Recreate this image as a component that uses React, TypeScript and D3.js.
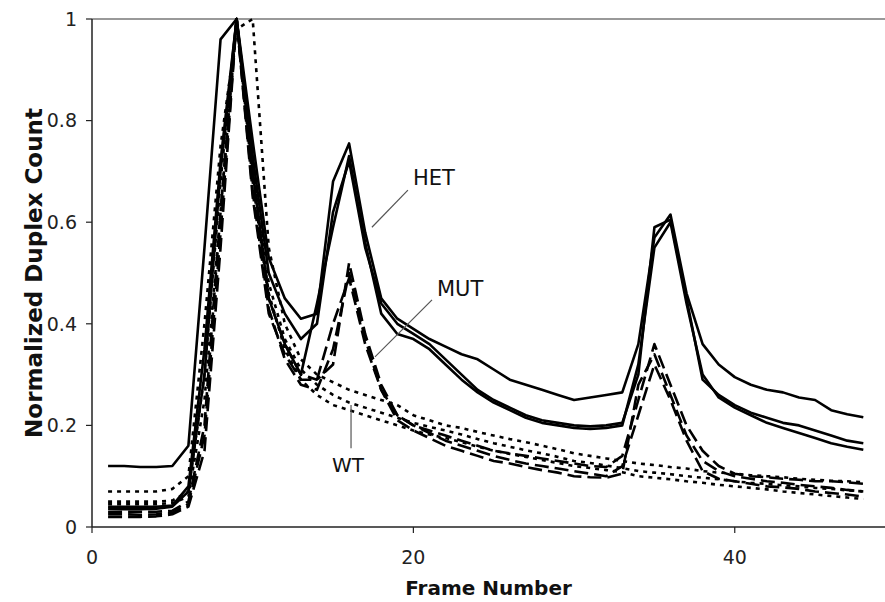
import React from 'react';
import * as d3 from 'd3';

// frame numbers 1..48
const frames = d3.range(1, 49);

const het1 = [0.12, 0.12, 0.118, 0.118, 0.12, 0.16, 0.55, 0.96, 1.0, 0.76, 0.53, 0.45, 0.41, 0.42, 0.68, 0.755, 0.58, 0.45, 0.41, 0.39, 0.37, 0.355, 0.34, 0.33, 0.31, 0.29, 0.28, 0.27, 0.26, 0.25, 0.255, 0.26, 0.265, 0.36, 0.57, 0.615, 0.46, 0.36, 0.32, 0.295, 0.28, 0.27, 0.265, 0.255, 0.25, 0.23, 0.222, 0.216];
const het2 = [0.04, 0.04, 0.04, 0.04, 0.042, 0.08, 0.35, 0.72, 1.0, 0.73, 0.5, 0.42, 0.37, 0.4, 0.62, 0.72, 0.55, 0.44, 0.4, 0.38, 0.36, 0.33, 0.3, 0.27, 0.25, 0.235, 0.22, 0.21, 0.205, 0.2, 0.198, 0.2, 0.205, 0.3, 0.59, 0.605, 0.45, 0.29, 0.26, 0.24, 0.225, 0.215, 0.205, 0.2, 0.19, 0.18, 0.17, 0.165];
const het3 = [0.036, 0.035, 0.035, 0.036, 0.04, 0.07, 0.3, 0.7, 1.0, 0.7, 0.45, 0.36, 0.3, 0.44, 0.59, 0.73, 0.56, 0.42, 0.38, 0.37, 0.35, 0.32, 0.29, 0.265, 0.245, 0.23, 0.215, 0.205, 0.2, 0.195, 0.193, 0.195, 0.2, 0.32, 0.55, 0.6, 0.44, 0.3, 0.255, 0.235, 0.22, 0.205, 0.195, 0.185, 0.175, 0.165, 0.158, 0.152];

const mut1 = [0.03, 0.03, 0.03, 0.03, 0.032, 0.05, 0.2, 0.62, 1.0, 0.68, 0.45, 0.36, 0.3, 0.29, 0.32, 0.52, 0.38, 0.28, 0.22, 0.2, 0.19, 0.18, 0.17, 0.16, 0.15, 0.145, 0.14, 0.135, 0.13, 0.125, 0.12, 0.118, 0.14, 0.25, 0.36, 0.28, 0.2, 0.15, 0.12, 0.105, 0.1, 0.098, 0.095, 0.093, 0.09, 0.09, 0.088, 0.085];
const mut2 = [0.02, 0.02, 0.02, 0.021, 0.025, 0.04, 0.15, 0.55, 1.0, 0.65, 0.42, 0.34, 0.29, 0.29, 0.4, 0.49, 0.36, 0.27, 0.22, 0.2, 0.185, 0.17, 0.16, 0.15, 0.14, 0.132, 0.125, 0.12, 0.115, 0.11, 0.105, 0.1, 0.12, 0.22, 0.32, 0.25, 0.17, 0.11, 0.095, 0.09, 0.085, 0.08, 0.078, 0.075, 0.07, 0.067, 0.064, 0.06];
const mut3 = [0.025, 0.025, 0.024, 0.025, 0.028, 0.045, 0.18, 0.58, 1.0, 0.66, 0.43, 0.33, 0.28, 0.27, 0.35, 0.5, 0.37, 0.27, 0.21, 0.19, 0.175, 0.16, 0.15, 0.14, 0.13, 0.125, 0.118, 0.112, 0.107, 0.1, 0.098, 0.097, 0.105, 0.28, 0.34, 0.26, 0.18, 0.13, 0.11, 0.1, 0.095, 0.09, 0.087, 0.083, 0.08, 0.077, 0.073, 0.07];

const wt1 = [0.07, 0.07, 0.07, 0.07, 0.075, 0.1, 0.4, 0.75, 0.98, 1.0, 0.55, 0.4, 0.33, 0.3, 0.285, 0.27, 0.26, 0.25, 0.24, 0.22, 0.21, 0.2, 0.195, 0.187, 0.18, 0.173, 0.167, 0.16, 0.153, 0.145, 0.14, 0.135, 0.13, 0.125, 0.122, 0.118, 0.115, 0.11, 0.107, 0.105, 0.102, 0.1, 0.098, 0.095, 0.093, 0.091, 0.09, 0.088];
const wt2 = [0.05, 0.05, 0.05, 0.05, 0.052, 0.07, 0.3, 0.68, 1.0, 0.72, 0.48, 0.37, 0.31, 0.28, 0.26, 0.245, 0.235, 0.225, 0.215, 0.205, 0.197, 0.19, 0.182, 0.173, 0.165, 0.158, 0.151, 0.145, 0.138, 0.13, 0.126, 0.121, 0.116, 0.11, 0.107, 0.104, 0.1, 0.097, 0.094, 0.09, 0.087, 0.085, 0.082, 0.08, 0.077, 0.075, 0.072, 0.07];
const wt3 = [0.045, 0.045, 0.045, 0.045, 0.047, 0.06, 0.25, 0.62, 1.0, 0.7, 0.46, 0.35, 0.29, 0.26, 0.24, 0.23, 0.22, 0.21, 0.2, 0.19, 0.182, 0.175, 0.167, 0.158, 0.15, 0.144, 0.138, 0.132, 0.126, 0.12, 0.116, 0.112, 0.108, 0.1, 0.097, 0.094, 0.09, 0.087, 0.083, 0.08, 0.077, 0.074, 0.07, 0.067, 0.064, 0.061, 0.058, 0.055];

const series = [
  { name: 'HET', values: het1, dash: null },
  { name: 'HET', values: het2, dash: null },
  { name: 'HET', values: het3, dash: null },
  { name: 'MUT', values: mut1, dash: '14,6' },
  { name: 'MUT', values: mut2, dash: '14,6' },
  { name: 'MUT', values: mut3, dash: '14,6' },
  { name: 'WT', values: wt1, dash: '4,5' },
  { name: 'WT', values: wt2, dash: '4,5' },
  { name: 'WT', values: wt3, dash: '4,5' },
];

const yTicks = [0, 0.2, 0.4, 0.6, 0.8, 1];
const xTicks = [0, 20, 40];

const W = 885;
const H = 602;
const margin = { left: 92, top: 19, right: 0, bottom: 75 };

export default function App() {
  const x = d3.scaleLinear().domain([0, 49.35]).range([margin.left, W - margin.right]);
  const y = d3.scaleLinear().domain([0, 1]).range([H - margin.bottom, margin.top]);
  const line = d3.line<number>().x((d, i) => x(frames[i])).y((d) => y(d));
  const font = "'DejaVu Sans', Verdana, sans-serif";

  return (
    <svg width={W} height={H} style={{ position: 'absolute', left: 0, top: 0, background: '#fff' }} fontFamily={font}>
      {/* frame lines */}
      <line x1={x(0)} x2={W} y1={y(1)} y2={y(1)} stroke="#777" strokeWidth={1.5} />
      <line x1={x(0)} x2={x(0)} y1={y(1)} y2={y(0)} stroke="#222" strokeWidth={1.5} />
      <line x1={x(0)} x2={W} y1={y(0)} y2={y(0)} stroke="#222" strokeWidth={1.5} />

      {yTicks.map((t) => (
        <g key={t}>
          <line x1={x(0) - 6} x2={x(0)} y1={y(t)} y2={y(t)} stroke="#222" strokeWidth={1.2} />
          <text x={x(0) - 15} y={y(t)} dy="0.36em" textAnchor="end" fontSize={19} fill="#222">{t}</text>
        </g>
      ))}
      {xTicks.map((t) => (
        <g key={t}>
          <line x1={x(t)} x2={x(t)} y1={y(0)} y2={y(0) + 6} stroke="#222" strokeWidth={1.2} />
          <text x={x(t)} y={y(0) + 37} textAnchor="middle" fontSize={19} fill="#222">{t}</text>
        </g>
      ))}

      <g fill="none" stroke="#000" strokeWidth={2.6} strokeLinejoin="round">
        {series.map((s, i) => (
          <path key={i} d={line(s.values) || ''} strokeDasharray={s.dash || undefined} />
        ))}
      </g>

      {/* annotations */}
      <g stroke="#555" strokeWidth={1.2}>
        <line x1={x(19.66)} y1={y(0.663)} x2={x(17.42)} y2={y(0.59)} />
        <line x1={x(21.16)} y1={y(0.447)} x2={x(17.61)} y2={y(0.335)} />
        <line x1={x(16.12)} y1={y(0.24)} x2={x(16.12)} y2={y(0.155)} />
      </g>
      <g fontSize={21} fill="#111">
        <text x={x(19.97)} y={y(0.673)}>HET</text>
        <text x={x(21.47)} y={y(0.455)}>MUT</text>
        <text x={x(15.93)} y={y(0.108)} textAnchor="middle" fontSize={20}>WT</text>
      </g>

      <text x={(x(0) + W) / 2} y={595} textAnchor="middle" fontSize={20} fontWeight="bold" fill="#111">Frame Number</text>
      <text transform={`translate(42, ${(y(0) + y(1)) / 2}) rotate(-90)`} textAnchor="middle" fontSize={23} fontWeight="bold" fill="#111">Normalized Duplex Count</text>
    </svg>
  );
}
